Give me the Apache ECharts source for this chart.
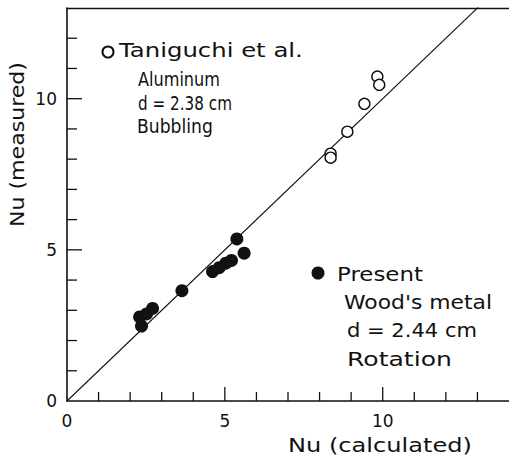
<!DOCTYPE html>
<html>
<head>
<meta charset="utf-8">
<script src="https://cdn.jsdelivr.net/npm/echarts@6/dist/echarts.min.js"></script>
<style>
  html, body { margin: 0; padding: 0; background: #fff; }
  #chart { width: 509px; height: 456px; }
</style>
</head>
<body>
<div id="chart"></div>
<script>
// Nusselt number: measured vs calculated
const taniguchiCalc = [9.83, 9.89, 9.42, 8.88, 8.35, 8.35];
const taniguchiMeas = [10.73, 10.46, 9.83, 8.91, 8.18, 8.05];
const presentCalc = [2.30, 2.36, 2.52, 2.71, 3.64, 4.61, 4.82, 5.03, 5.21, 5.38, 5.61];
const presentMeas = [2.78, 2.48, 2.88, 3.06, 3.65, 4.28, 4.41, 4.56, 4.65, 5.36, 4.89];
const parityLine = [0, 14];          // Nu(measured) = Nu(calculated)
const xTickLabels = [0, 5, 10];
const yTickLabels = [0, 5, 10];
const xTicks = [1, 2, 3, 4, 5, 6, 7, 8, 9, 10, 11, 12, 13];
const yTicks = [1, 2, 3, 4, 5, 6, 7, 8, 9, 10, 11, 12];
const majorTicks = [5, 10];

const INK = '#111';
const FONT = '"DejaVu Sans", sans-serif';

// annotation text blocks beside the two legend keys
const notes = [
  { text: 'Taniguchi et al.', x: 119, y: 50.5, w: 184 },
  { text: 'Aluminum', x: 138, y: 80, w: 82 },
  { text: 'd = 2.38 cm', x: 138, y: 103.5, w: 94 },
  { text: 'Bubbling', x: 137, y: 126.5, w: 76 },
  { text: 'Present', x: 337, y: 274, w: 86 },
  { text: "Wood's metal", x: 344, y: 303, w: 148 },
  { text: 'd = 2.44 cm', x: 347, y: 330, w: 130 },
  { text: 'Rotation', x: 347, y: 359, w: 105 }
];

const measureCtx = document.createElement('canvas').getContext('2d');
function stretchFor(text, size, width) {
  measureCtx.font = size + 'px ' + FONT;
  return width / measureCtx.measureText(text).width;
}

function textEl(t, size, extra) {
  return Object.assign({
    type: 'text',
    x: t.x, y: t.y,
    scaleX: stretchFor(t.text, size, t.w),
    silent: true,
    style: {
      text: t.text,
      font: size + 'px ' + FONT,
      fill: INK,
      textAlign: 'left',
      textVerticalAlign: 'middle'
    }
  }, extra || {});
}

const graphics = notes.map(n => textEl(n, 19));
graphics.push(textEl({ text: 'Nu (calculated)', x: 288, y: 445.5, w: 184 }, 19));
graphics.push(textEl({ text: 'Nu (measured)', x: 17.5, y: 227, w: 165 }, 19, { rotation: Math.PI / 2 }));

const zip = (a, b) => a.map((v, i) => [v, b[i]]);

// tick marks pointing into the plot: [value, axis (0 = x, 1 = y), length]
const tickData = []
  .concat(xTicks.map(v => [v, 0, majorTicks.includes(v) ? 14 : 9]))
  .concat(yTicks.map(v => [v, 1, majorTicks.includes(v) ? 15 : 10]));

const axisCommon = {
  type: 'value',
  splitLine: { show: false },
  axisLine: { show: true, lineStyle: { color: INK, width: 1.6 } },
  axisTick: { show: false }
};

const chart = echarts.init(document.getElementById('chart'), null, { renderer: 'svg' });
chart.setOption({
  animation: false,
  backgroundColor: '#fff',
  grid: { left: 67, right: -2.5, top: 8, bottom: 55, containLabel: false },
  xAxis: [
    Object.assign({}, axisCommon, {
      min: 0, max: 14, interval: 1, position: 'bottom',
      axisLabel: {
        customValues: xTickLabels, margin: 11,
        fontFamily: FONT, fontSize: 17, color: INK
      }
    }),
    {
      type: 'value', min: 0, max: 14, position: 'top',
      splitLine: { show: false },
      axisLine: { show: true, lineStyle: { color: INK, width: 1.4 } },
      axisTick: { show: false },
      axisLabel: { show: false }
    }
  ],
  yAxis: Object.assign({}, axisCommon, {
    min: 0, max: 13, interval: 1,
    axisLabel: {
      customValues: yTickLabels, margin: 10,
      fontFamily: FONT, fontSize: 17, color: INK
    }
  }),
  legend: [
    {
      data: ['Taniguchi et al.'], left: 101.5, top: 45.5, padding: 0,
      itemWidth: 11, itemHeight: 11, icon: 'circle',
      formatter: () => '', selectedMode: false
    },
    {
      data: ['Present'], left: 311.5, top: 266.5, padding: 0,
      itemWidth: 13, itemHeight: 13, icon: 'circle',
      formatter: () => '', selectedMode: false
    }
  ],
  graphic: graphics,
  series: [
    {
      name: 'parity',
      type: 'line',
      data: zip(parityLine, parityLine),
      symbol: 'none',
      clip: true,
      lineStyle: { color: INK, width: 1.1 },
      z: 1
    },
    {
      name: 'ticks',
      type: 'custom',
      clip: false,
      silent: true,
      data: tickData,
      renderItem(params, api) {
        const v = api.value(0);
        const onX = api.value(1) === 0;
        const len = api.value(2);
        const p = onX ? api.coord([v, 0]) : api.coord([0, v]);
        const q = onX ? [p[0], p[1] - len] : [p[0] + len, p[1]];
        return {
          type: 'line',
          shape: { x1: p[0], y1: p[1], x2: q[0], y2: q[1] },
          style: { stroke: INK, lineWidth: 1.3 }
        };
      },
      z: 3
    },
    {
      name: 'Taniguchi et al.',
      type: 'scatter',
      data: zip(taniguchiCalc, taniguchiMeas),
      symbol: 'circle',
      symbolSize: 11,
      itemStyle: { color: '#fff', borderColor: INK, borderWidth: 1.4, opacity: 1 },
      z: 4
    },
    {
      name: 'Present',
      type: 'scatter',
      data: zip(presentCalc, presentMeas),
      symbol: 'circle',
      symbolSize: 13,
      itemStyle: { color: INK, opacity: 1 },
      z: 4
    }
  ]
});
</script>
</body>
</html>
